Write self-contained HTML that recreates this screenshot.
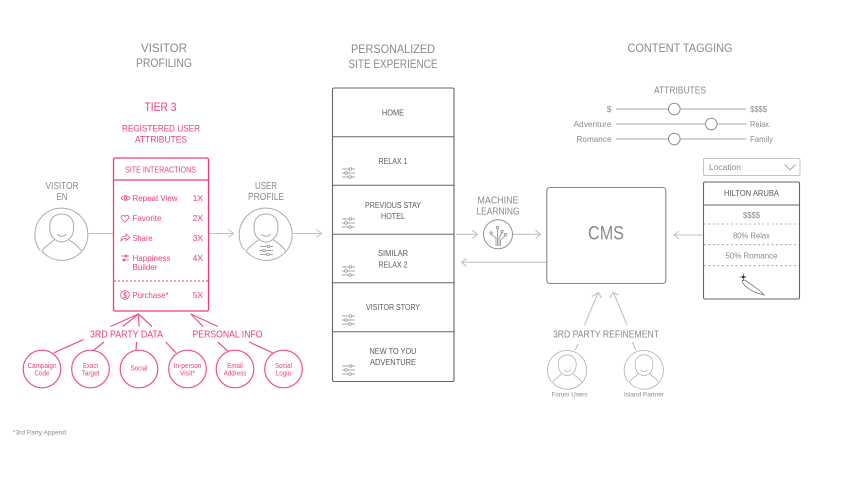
<!DOCTYPE html>
<html><head><meta charset="utf-8"><style>
html,body{margin:0;padding:0;background:#fff;width:853px;height:480px;overflow:hidden}
svg{display:block}
text{font-family:"Liberation Sans",sans-serif;dominant-baseline:central;text-anchor:middle;fill:#8a8a8a}
.p text,text.p{fill:#ee3f74}
.d text,text.d{fill:#5a5a5a}
.l{fill:none;stroke:#c2c2c2;stroke-width:1.1}
.pl{fill:none;stroke:#f0527f;stroke-width:1.2}
.s{text-anchor:start}
.e{text-anchor:end}
</style></head><body>
<svg width="853" height="480" viewBox="0 0 853 480" xmlns="http://www.w3.org/2000/svg">
<defs>
<g id="person" fill="none" stroke="#ababab" stroke-width="1">
<path d="M-21.500 17A26.500 26.500 0 1 1 20.500 17.500"/>
<path d="M-8.500 4.500C-11 2-12-1-12-7C-12-15-7-19.500 0-19.500C7-19.500 12-15 12-7C12-1 11 2 8.500 4.500C5.500 7.500 3 8.500 0 8.500C-3 8.500-5.500 7.500-8.500 4.500Z"/>
<path d="M-4.500 0.500C-2.500 3.500 2.500 3.500 4.500 0.500"/>
<path d="M-20 17.500C-15 11-11 9.500-7.500 6.500M7.500 6.500C12 9.500 16 12 20 18M-20 17.500A26.500 26.500 0 0 0 20 18"/>
</g>
<g id="sl" fill="#fff" stroke="#8a8a8a" stroke-width=".7">
<path d="M0-4H13M0 0H13M0 4H13" fill="none"/>
<circle cx="8.500" cy="-4" r="1.300"/><circle cx="4" cy="0" r="1.300"/><circle cx="8" cy="4" r="1.300"/>
</g>
</defs>

<!-- headings -->
<text x="164" y="49" font-size="11.500" textLength="46" lengthAdjust="spacingAndGlyphs">VISITOR</text>
<text x="164" y="64" font-size="11.500" textLength="56" lengthAdjust="spacingAndGlyphs">PROFILING</text>
<text x="393" y="50" font-size="11.500" textLength="84" lengthAdjust="spacingAndGlyphs">PERSONALIZED</text>
<text x="393" y="65" font-size="11.500" textLength="89" lengthAdjust="spacingAndGlyphs">SITE EXPERIENCE</text>
<text x="680" y="49" font-size="11.500" textLength="105" lengthAdjust="spacingAndGlyphs">CONTENT TAGGING</text>

<!-- visitor -->
<text x="62" y="186.500" font-size="10" textLength="33" lengthAdjust="spacingAndGlyphs">VISITOR</text>
<text x="62" y="197.500" font-size="10" textLength="11" lengthAdjust="spacingAndGlyphs">EN</text>
<use href="#person" x="61.700" y="233.500"/>
<path class="l" d="M88.500 233.500H113"/>
<text x="266" y="186.500" font-size="10" textLength="22" lengthAdjust="spacingAndGlyphs">USER</text>
<text x="266" y="197.500" font-size="10" textLength="36" lengthAdjust="spacingAndGlyphs">PROFILE</text>
<use href="#person" x="266" y="233.500"/>
<use href="#sl" x="260" y="250.500"/>
<path class="l" d="M209 233.500H233M228.500 229.500L233.500 233.500L228.500 237.500"/>
<path class="l" d="M293 233.500H321M316.500 229.500L321.500 233.500L316.500 237.500"/>

<!-- tier 3 box first so labels sit on top -->
<rect x="113.500" y="158" width="95" height="153" rx="1.500" fill="#fff" stroke="#ee3f74" stroke-width="1.300"/>
<path d="M113.500 180H208.500" stroke="#ee3f74" stroke-width="1.200"/>
<path d="M114 281H208" stroke="#ee3f74" stroke-width="1" stroke-dasharray="2 2"/>
<g class="p">
<text x="160.500" y="107" font-size="12" textLength="32" lengthAdjust="spacingAndGlyphs">TIER 3</text>
<text x="161" y="129" font-size="9.500" textLength="78" lengthAdjust="spacingAndGlyphs">REGISTERED USER</text>
<text x="161" y="140" font-size="9.500" textLength="52" lengthAdjust="spacingAndGlyphs">ATTRIBUTES</text>
<text x="160.500" y="169.500" font-size="8.500" textLength="71" lengthAdjust="spacingAndGlyphs">SITE INTERACTIONS</text>
<text class="s" x="132.500" y="198" font-size="8.500" textLength="45" lengthAdjust="spacingAndGlyphs">Repeat View</text>
<text class="s" x="132.500" y="218" font-size="8.500" textLength="29" lengthAdjust="spacingAndGlyphs">Favorite</text>
<text class="s" x="132.500" y="238" font-size="8.500" textLength="20" lengthAdjust="spacingAndGlyphs">Share</text>
<text class="s" x="132.500" y="258" font-size="8.500" textLength="38" lengthAdjust="spacingAndGlyphs">Happiness</text>
<text class="s" x="132.500" y="267" font-size="8.500" textLength="25" lengthAdjust="spacingAndGlyphs">Builder</text>
<text class="s" x="132.500" y="295" font-size="8.500" textLength="36" lengthAdjust="spacingAndGlyphs">Purchase*</text>
<text class="e" x="203" y="198" font-size="8.500">1X</text>
<text class="e" x="203" y="218" font-size="8.500">2X</text>
<text class="e" x="203" y="238" font-size="8.500">3X</text>
<text class="e" x="203" y="258" font-size="8.500">4X</text>
<text class="e" x="203" y="295" font-size="8.500">5X</text>
<text x="126.500" y="334.500" font-size="10.500" textLength="73" lengthAdjust="spacingAndGlyphs">3RD PARTY DATA</text>
<text x="227.500" y="334.500" font-size="10.500" textLength="70" lengthAdjust="spacingAndGlyphs">PERSONAL INFO</text>
<text x="42" y="366.500" font-size="7" textLength="29" lengthAdjust="spacingAndGlyphs">Campaign</text><text x="42" y="374" font-size="7" textLength="15" lengthAdjust="spacingAndGlyphs">Code</text>
<text x="90.500" y="366.500" font-size="7" textLength="15" lengthAdjust="spacingAndGlyphs">Exact</text><text x="90.500" y="374" font-size="7" textLength="18" lengthAdjust="spacingAndGlyphs">Target</text>
<text x="139" y="369" font-size="7" textLength="17" lengthAdjust="spacingAndGlyphs">Social</text>
<text x="187.500" y="366.500" font-size="7" textLength="28" lengthAdjust="spacingAndGlyphs">In-person</text><text x="187.500" y="374" font-size="7" textLength="15" lengthAdjust="spacingAndGlyphs">Visit*</text>
<text x="235" y="366.500" font-size="7" textLength="15.500" lengthAdjust="spacingAndGlyphs">Email</text><text x="235" y="374" font-size="7" textLength="22.500" lengthAdjust="spacingAndGlyphs">Address</text>
<text x="283.500" y="366.500" font-size="7" textLength="17" lengthAdjust="spacingAndGlyphs">Social</text><text x="283.500" y="374" font-size="7" textLength="15.500" lengthAdjust="spacingAndGlyphs">Login</text>
</g>
<g fill="none" stroke="#f0527f" stroke-width=".8">
<path d="M121 198C123 195 128 195 130 198C128 201 123 201 121 198Z"/><circle cx="125.500" cy="198" r="1.300"/>
<path d="M125 222L121.500 218.500C120 216 123.500 214 125 216.500C126.500 214 130 216 128.500 218.500Z"/>
<path d="M121 241C121 237 123 236 126 236V234L130 237.500L126 240.500V238.500C124 238.500 122.500 239 121 241Z"/>
<path d="M121 256H129M122 260H129"/><circle cx="126" cy="256" r="1"/><circle cx="124" cy="260" r="1"/>
<circle cx="125" cy="295" r="4.300"/><path d="M126.500 293.200C125 292 123.500 293 124 294.500C124.500 295.500 126.500 295 126.500 296.500C126 298 124 298 123.500 297M125 291.800V298.200"/>
</g>
<g class="pl">
<path d="M110.500 326.500L138.500 314L122.800 326.500M138.500 314L139 326.500M138.500 314L152 326.500"/>
<path d="M203 326.500L190.800 314L218 326.500"/>
<path d="M83.500 339.600L53.800 352.800M104 342L93.400 350.500M136.600 342L136 350.500M165.700 342L176 352.800M217.800 342L227.700 351M249 342L272.600 352.800"/>
<circle cx="42" cy="369" r="18.800"/><circle cx="90.500" cy="369" r="18.800"/><circle cx="139" cy="369" r="18.800"/>
<circle cx="187.500" cy="369" r="18.800"/><circle cx="235" cy="369" r="18.800"/><circle cx="283.500" cy="369" r="18.800"/>
</g>
<text class="s" x="13" y="433" font-size="6.800" textLength="53" lengthAdjust="spacingAndGlyphs">*3rd Party Append</text>

<!-- site experience -->
<rect x="332.500" y="88" width="121.500" height="293.500" rx="1.500" fill="#fff" stroke="#666" stroke-width="1.100"/>
<path d="M332.500 136.700H454M332.500 185.300H454M332.500 234.300H454M332.500 282.700H454M332.500 331.700H454" stroke="#666" stroke-width="1"/>
<g class="d">
<text x="393" y="112.500" font-size="8.500" textLength="22.300" lengthAdjust="spacingAndGlyphs">HOME</text>
<text x="393" y="161" font-size="8.500" textLength="29" lengthAdjust="spacingAndGlyphs">RELAX 1</text>
<text x="393" y="205" font-size="8.500" textLength="56" lengthAdjust="spacingAndGlyphs">PREVIOUS STAY</text>
<text x="393" y="216" font-size="8.500" textLength="24" lengthAdjust="spacingAndGlyphs">HOTEL</text>
<text x="393" y="253" font-size="8.500" textLength="30" lengthAdjust="spacingAndGlyphs">SIMILAR</text>
<text x="393" y="264.500" font-size="8.500" textLength="29" lengthAdjust="spacingAndGlyphs">RELAX 2</text>
<text x="393" y="307" font-size="8.500" textLength="54" lengthAdjust="spacingAndGlyphs">VISITOR STORY</text>
<text x="393" y="351" font-size="8.500" textLength="47" lengthAdjust="spacingAndGlyphs">NEW TO YOU</text>
<text x="393" y="362" font-size="8.500" textLength="46" lengthAdjust="spacingAndGlyphs">ADVENTURE</text>
</g>
<use href="#sl" x="342" y="173"/><use href="#sl" x="342" y="223"/><use href="#sl" x="342" y="271"/>
<use href="#sl" x="342" y="320"/><use href="#sl" x="342" y="370"/>

<!-- machine learning -->
<text x="498" y="201" font-size="10" textLength="41" lengthAdjust="spacingAndGlyphs">MACHINE</text>
<text x="498" y="212" font-size="10" textLength="43" lengthAdjust="spacingAndGlyphs">LEARNING</text>
<path class="l" d="M456 234.300H477M472.500 230.300L477.500 234.300L472.500 238.300"/>
<path class="l" d="M513 234.300H540M535.500 230.300L540.500 234.300L535.500 238.300"/>
<path class="l" d="M547 262.300H462M466.500 258.300L461.500 262.300L466.500 266.300"/>
<circle cx="498" cy="234.300" r="14.500" fill="#fff" stroke="#8f8f8f" stroke-width="1"/>
<g fill="none" stroke="#8f8f8f" stroke-width=".8">
<path d="M496 246V238L491 234M497.500 246V229M499 246V238L502 233M500.500 246V240L505 236"/>
<circle cx="491" cy="233" r="1.200"/><circle cx="497.500" cy="227.500" r="1.200"/><circle cx="502" cy="231.500" r="1.200"/><circle cx="505.500" cy="234.500" r="1.200"/>
</g>

<!-- CMS -->
<rect x="546.800" y="187.500" width="119" height="96" rx="3" fill="#fff" stroke="#8a8a8a" stroke-width="1.100"/>
<text x="606" y="234" font-size="19" textLength="36" lengthAdjust="spacingAndGlyphs">CMS</text>
<path class="l" d="M703 235H674.500M679 231L674 235L679 239"/>

<!-- attributes -->
<text x="680" y="91" font-size="10" textLength="52" lengthAdjust="spacingAndGlyphs">ATTRIBUTES</text>
<path d="M616 109H746.500M616 124H746.500M616 139H746.500" stroke="#aaa" stroke-width="1.100" fill="none"/>
<g fill="#fff" stroke="#8f8f8f" stroke-width="1">
<circle cx="674.300" cy="109" r="5.800"/><circle cx="711.300" cy="124" r="5.800"/><circle cx="674.300" cy="139" r="5.800"/>
</g>
<text class="e" x="611.500" y="109" font-size="8.500">$</text>
<text class="e" x="611.500" y="124" font-size="8.500" textLength="38" lengthAdjust="spacingAndGlyphs">Adventure</text>
<text class="e" x="611.500" y="139" font-size="8.500" textLength="35" lengthAdjust="spacingAndGlyphs">Romance</text>
<text class="s" x="750" y="109" font-size="8.500" textLength="17" lengthAdjust="spacingAndGlyphs">$$$$</text>
<text class="s" x="750" y="124" font-size="8.500" textLength="19" lengthAdjust="spacingAndGlyphs">Relax</text>
<text class="s" x="750" y="139" font-size="8.500" textLength="23" lengthAdjust="spacingAndGlyphs">Family</text>

<rect x="703.500" y="158.500" width="96.500" height="17" rx="1.500" fill="#fff" stroke="#c4c4c4" stroke-width="1"/>
<text class="s" x="709" y="167" font-size="8.500" textLength="32" lengthAdjust="spacingAndGlyphs">Location</text>
<path d="M784.500 164.500L790 170L795.500 164.500" fill="none" stroke="#a5a5a5" stroke-width=".9"/>

<rect x="703.500" y="182" width="96" height="117" rx="1.500" fill="#fff" stroke="#666" stroke-width="1.100"/>
<path d="M703.500 205H799.500" stroke="#666" stroke-width="1"/>
<path d="M704 224H799M704 244.700H799M704 265.700H799" stroke="#999" stroke-width=".8" stroke-dasharray="2 2.500"/>
<text class="d" x="751.500" y="193" font-size="8.500" textLength="55" lengthAdjust="spacingAndGlyphs">HILTON ARUBA</text>
<text x="751.500" y="215" font-size="8.500" textLength="17" lengthAdjust="spacingAndGlyphs">$$$$</text>
<text x="751.500" y="235.500" font-size="8.500" textLength="37" lengthAdjust="spacingAndGlyphs">80% Relax</text>
<text x="751.500" y="255.500" font-size="8.500" textLength="52" lengthAdjust="spacingAndGlyphs">50% Romance</text>
<path d="M742 281C745 278 748 283 752 285C756 288 762 292 764 295C762 294 759 294 757 293C752 291 744 287 742 281Z" fill="none" stroke="#777" stroke-width=".8"/>
<circle cx="743.300" cy="277" r="1.400" fill="#222"/>
<path d="M739.500 277H747M743.300 273.500V281" stroke="#333" stroke-width=".5"/>

<!-- refinement -->
<text x="606" y="335" font-size="10" textLength="106" lengthAdjust="spacingAndGlyphs">3RD PARTY REFINEMENT</text>
<path class="l" d="M575 350.500L578 344M584.500 325L598 293M592 296.500L598.500 292.500L601.500 298"/>
<path class="l" d="M636 350.500L632.500 342M627 325L613.500 292.700M610 298L613 292.500L619 295"/>
<use href="#person" transform="translate(567.300 369.300) scale(.74)"/>
<use href="#person" transform="translate(644 369.300) scale(.74)"/>
<text x="569.500" y="395" font-size="6.800" textLength="36" lengthAdjust="spacingAndGlyphs">Forum Users</text>
<text x="644" y="395" font-size="6.800" textLength="40" lengthAdjust="spacingAndGlyphs">Island Partner</text>
</svg>
</body></html>
